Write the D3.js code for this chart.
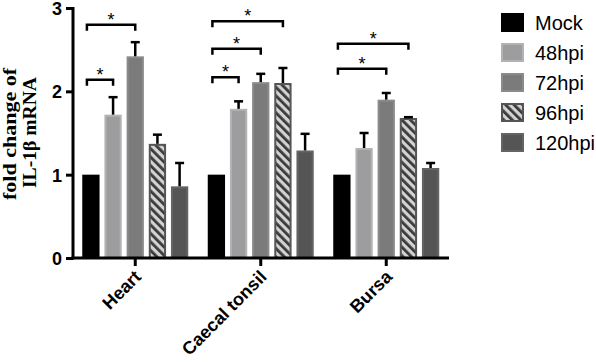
<!DOCTYPE html>
<html>
<head>
<meta charset="utf-8">
<script src="https://cdn.jsdelivr.net/npm/d3@7"></script>
<style>
  html, body { margin: 0; padding: 0; background: #fff; }
  svg { display: block; }
</style>
</head>
<body>
<script>
// ---- data ----
const categories = ["Heart", "Caecal tonsil", "Bursa"];
const seriesNames = ["Mock", "48hpi", "72hpi", "96hpi", "120hpi"];
const mockValues   = [1.00, 1.00, 1.00];
const hpi48Values  = [1.72, 1.79, 1.32];
const hpi72Values  = [2.42, 2.11, 1.90];
const hpi96Values  = [1.37, 2.10, 1.68];
const hpi120Values = [0.86, 1.29, 1.08];
const mockErr   = [0, 0, 0];
const hpi48Err  = [0.21, 0.09, 0.18];
const hpi72Err  = [0.17, 0.10, 0.08];
const hpi96Err  = [0.11, 0.18, 0.01];
const hpi120Err = [0.28, 0.20, 0.06];
const yTickValues = [0, 1, 2, 3];
const yTickLabels = ["0", "1", "2", "3"];
// significance brackets: [category, from series, to series, level]
const brackets = [
  ["Heart", "Mock", "48hpi", 2.14],
  ["Heart", "Mock", "72hpi", 2.80],
  ["Caecal tonsil", "Mock", "48hpi", 2.17],
  ["Caecal tonsil", "Mock", "72hpi", 2.51],
  ["Caecal tonsil", "Mock", "96hpi", 2.84],
  ["Bursa", "Mock", "72hpi", 2.27],
  ["Bursa", "Mock", "96hpi", 2.57]
];

const valuesBySeries = [mockValues, hpi48Values, hpi72Values, hpi96Values, hpi120Values];
const errBySeries = [mockErr, hpi48Err, hpi72Err, hpi96Err, hpi120Err];

// ---- styles ----
const fills   = {"Mock": "#000000", "48hpi": "#9d9d9f", "72hpi": "#7b7b7b", "96hpi": "url(#hatch)", "120hpi": "#555555"};
const strokes = {"Mock": "#000000", "48hpi": "#b3b3b3", "72hpi": "#8b8b8b", "96hpi": "#555555", "120hpi": "#646464"};

const W = 596, H = 362;
const svg = d3.select("body").append("svg").attr("width", W).attr("height", H);

const defs = svg.append("defs");
const pat = defs.append("pattern").attr("id", "hatch")
  .attr("patternUnits", "userSpaceOnUse").attr("width", 6).attr("height", 6)
  .attr("patternTransform", "rotate(-45)");
pat.append("rect").attr("width", 6).attr("height", 6).attr("fill", "#d2d2d2");
pat.append("rect").attr("x", 0).attr("width", 2.8).attr("height", 6).attr("fill", "#3a3a3a");

const y = d3.scaleLinear().domain([0, 3]).range([258, 8]);
const x0 = d3.scaleBand().domain(categories).range([72.5, 449]).padding(0);
const x1 = d3.scaleBand().domain(seriesNames).range([-53, 53]).paddingInner(0.22);

const barData = [];
seriesNames.forEach((s, si) => {
  categories.forEach((c, ci) => {
    barData.push({cat: c, ser: s, v: valuesBySeries[si][ci], e: errBySeries[si][ci]});
  });
});
const cx = c => x0(c) + x0.bandwidth() / 2;
const bx = (c, s) => cx(c) + x1(s);

// bars
svg.append("g").selectAll("rect").data(barData).join("rect")
  .attr("x", d => bx(d.cat, d.ser) + 1)
  .attr("y", d => y(d.v) + 1)
  .attr("width", x1.bandwidth() - 2)
  .attr("height", d => y(0) - y(d.v) - 1)
  .attr("fill", d => fills[d.ser])
  .attr("stroke", d => strokes[d.ser])
  .attr("stroke-width", 2);

// error bars (upper only)
const eg = svg.append("g").attr("stroke", "#000").attr("stroke-width", 2.5);
barData.filter(d => d.e > 0).forEach(d => {
  const mx = bx(d.cat, d.ser) + x1.bandwidth() / 2;
  eg.append("line").attr("x1", mx).attr("x2", mx).attr("y1", y(d.v)).attr("y2", y(d.v + d.e));
  eg.append("line").attr("x1", mx - 4.5).attr("x2", mx + 4.5).attr("y1", y(d.v + d.e)).attr("y2", y(d.v + d.e));
});

// axes
const yAxis = d3.axisLeft(y).tickValues(yTickValues).tickFormat((d, i) => yTickLabels[i]).tickSize(7).tickPadding(4);
const gy = svg.append("g").attr("transform", "translate(73,0)").call(yAxis);
gy.select(".domain").attr("d", `M0,${y(3) - 1}V${y(0) + 1.5}`);
gy.selectAll("path, line").attr("stroke", "#000").attr("stroke-width", 3);
gy.selectAll("text").attr("font-family", "Liberation Sans, Arial, sans-serif")
  .attr("font-weight", "bold").attr("font-size", 18).attr("fill", "#000").attr("dy", "0.36em");

const xAxis = d3.axisBottom(x0).tickSize(8).tickPadding(4);
const gx = svg.append("g").attr("transform", "translate(0,258)").call(xAxis);
gx.select(".domain").attr("d", "M71.5,0H449");
gx.selectAll("path, line").attr("stroke", "#000").attr("stroke-width", 3);
gx.selectAll("text")
  .attr("font-family", "Liberation Sans, Arial, sans-serif")
  .attr("font-weight", "bold").attr("font-size", 18).attr("fill", "#000")
  .attr("text-anchor", "end")
  .attr("dy", null).attr("y", 0)
  .attr("transform", "translate(7,20) rotate(-45)");

// significance brackets
const bg = svg.append("g");
brackets.forEach(([c, a, b, lvl]) => {
  const xa = bx(c, a) + x1.bandwidth() / 2 - 4;
  const xb = bx(c, b) + x1.bandwidth() / 2;
  const yy = y(lvl);
  bg.append("path").attr("d", `M${xa},${yy + 6}V${yy}H${xb}V${yy + 6}`)
    .attr("fill", "none").attr("stroke", "#000").attr("stroke-width", 2.5);
  bg.append("text").attr("x", (xa + xb) / 2).attr("y", yy + 1)
    .attr("text-anchor", "middle").attr("font-family", "Liberation Sans, Arial, sans-serif")
    .attr("font-size", 18).attr("fill", "#000").text("*");
});

// y label
const yl = svg.append("g").attr("font-family", "Liberation Serif, Times New Roman, serif")
  .attr("font-weight", "bold").attr("font-size", 18.5).attr("fill", "#000").attr("text-anchor", "middle");
yl.append("text").attr("transform", "translate(16,134) rotate(-90)")
  .attr("textLength", 132).attr("lengthAdjust", "spacingAndGlyphs").text("fold change of");
yl.append("text").attr("transform", "translate(36,132.5) rotate(-90)")
  .attr("textLength", 111).attr("lengthAdjust", "spacingAndGlyphs").text("IL-1β mRNA");

// legend
const lg = svg.append("g");
seriesNames.forEach((s, i) => {
  const ly = 14 + i * 30;
  lg.append("rect").attr("x", 502).attr("y", ly).attr("width", 21).attr("height", 17)
    .attr("fill", fills[s]).attr("stroke", strokes[s]).attr("stroke-width", 2);
  lg.append("text").attr("x", 535).attr("y", ly + 16)
    .attr("font-family", "Liberation Sans, Arial, sans-serif").attr("font-size", 20)
    .attr("fill", "#000").text(s);
});
</script>
</body>
</html>
